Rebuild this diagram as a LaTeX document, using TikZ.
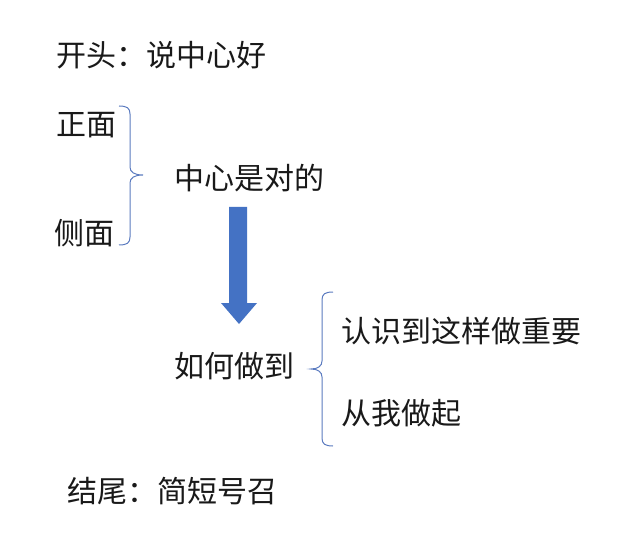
\documentclass[tikz,border=0pt]{standalone}
\usepackage{fontspec}
\newfontfamily\cjk{Noto Sans CJK SC}
\definecolor{bl}{HTML}{4472C4}
\definecolor{br}{HTML}{5B7BC0}
\tikzset{
  txt/.style={font=\cjk\fontsize{30pt}{32pt}\selectfont, anchor=west, inner sep=0pt, text=black!90},
  bracestyle/.style={draw=br, line width=1pt}
}
\begin{document}
\begin{tikzpicture}[x=1pt,y=-1pt]
\useasboundingbox[fill=white] (0,0) rectangle (640,556);
\node[txt] (kaitou) at (56,55) {开头：说中心好};
\node[txt] (zheng) at (56,125) {正面};
\node[txt] (ce) at (54,233) {侧面};
\node[txt] (zhongxin) at (174,178) {中心是对的};
\node[txt] (ruhe) at (174,366) {如何做到};
\node[txt] (renshi) at (341,331) {认识到这样做重要};
\node[txt] (cong) at (341,413) {从我做起};
\node[txt] (jiewei) at (67,491) {结尾：简短号召};
% left brace "}"
\draw[bracestyle] (119,106) .. controls (127,106) and (130,108) .. (130,114)
  -- (130,167) .. controls (130,172) and (134,175) .. (143,175)
  .. controls (134,175) and (130,178) .. (130,183)
  -- (130,237) .. controls (130,243) and (127,245) .. (119,245);
% right brace "{"
\draw[bracestyle] (333,292) .. controls (325,292) and (322,294) .. (322,300)
  -- (322,361) .. controls (322,366) and (318,369) .. (311,369)
  .. controls (318,369) and (322,372) .. (322,377)
  -- (322,438) .. controls (322,444) and (325,446) .. (333,446);
% block arrow
\fill[bl] (229,207) -- (247,207) -- (247,303) -- (257,303) -- (239,324) -- (221,303) -- (229,303) -- cycle;
\end{tikzpicture}
\end{document}
